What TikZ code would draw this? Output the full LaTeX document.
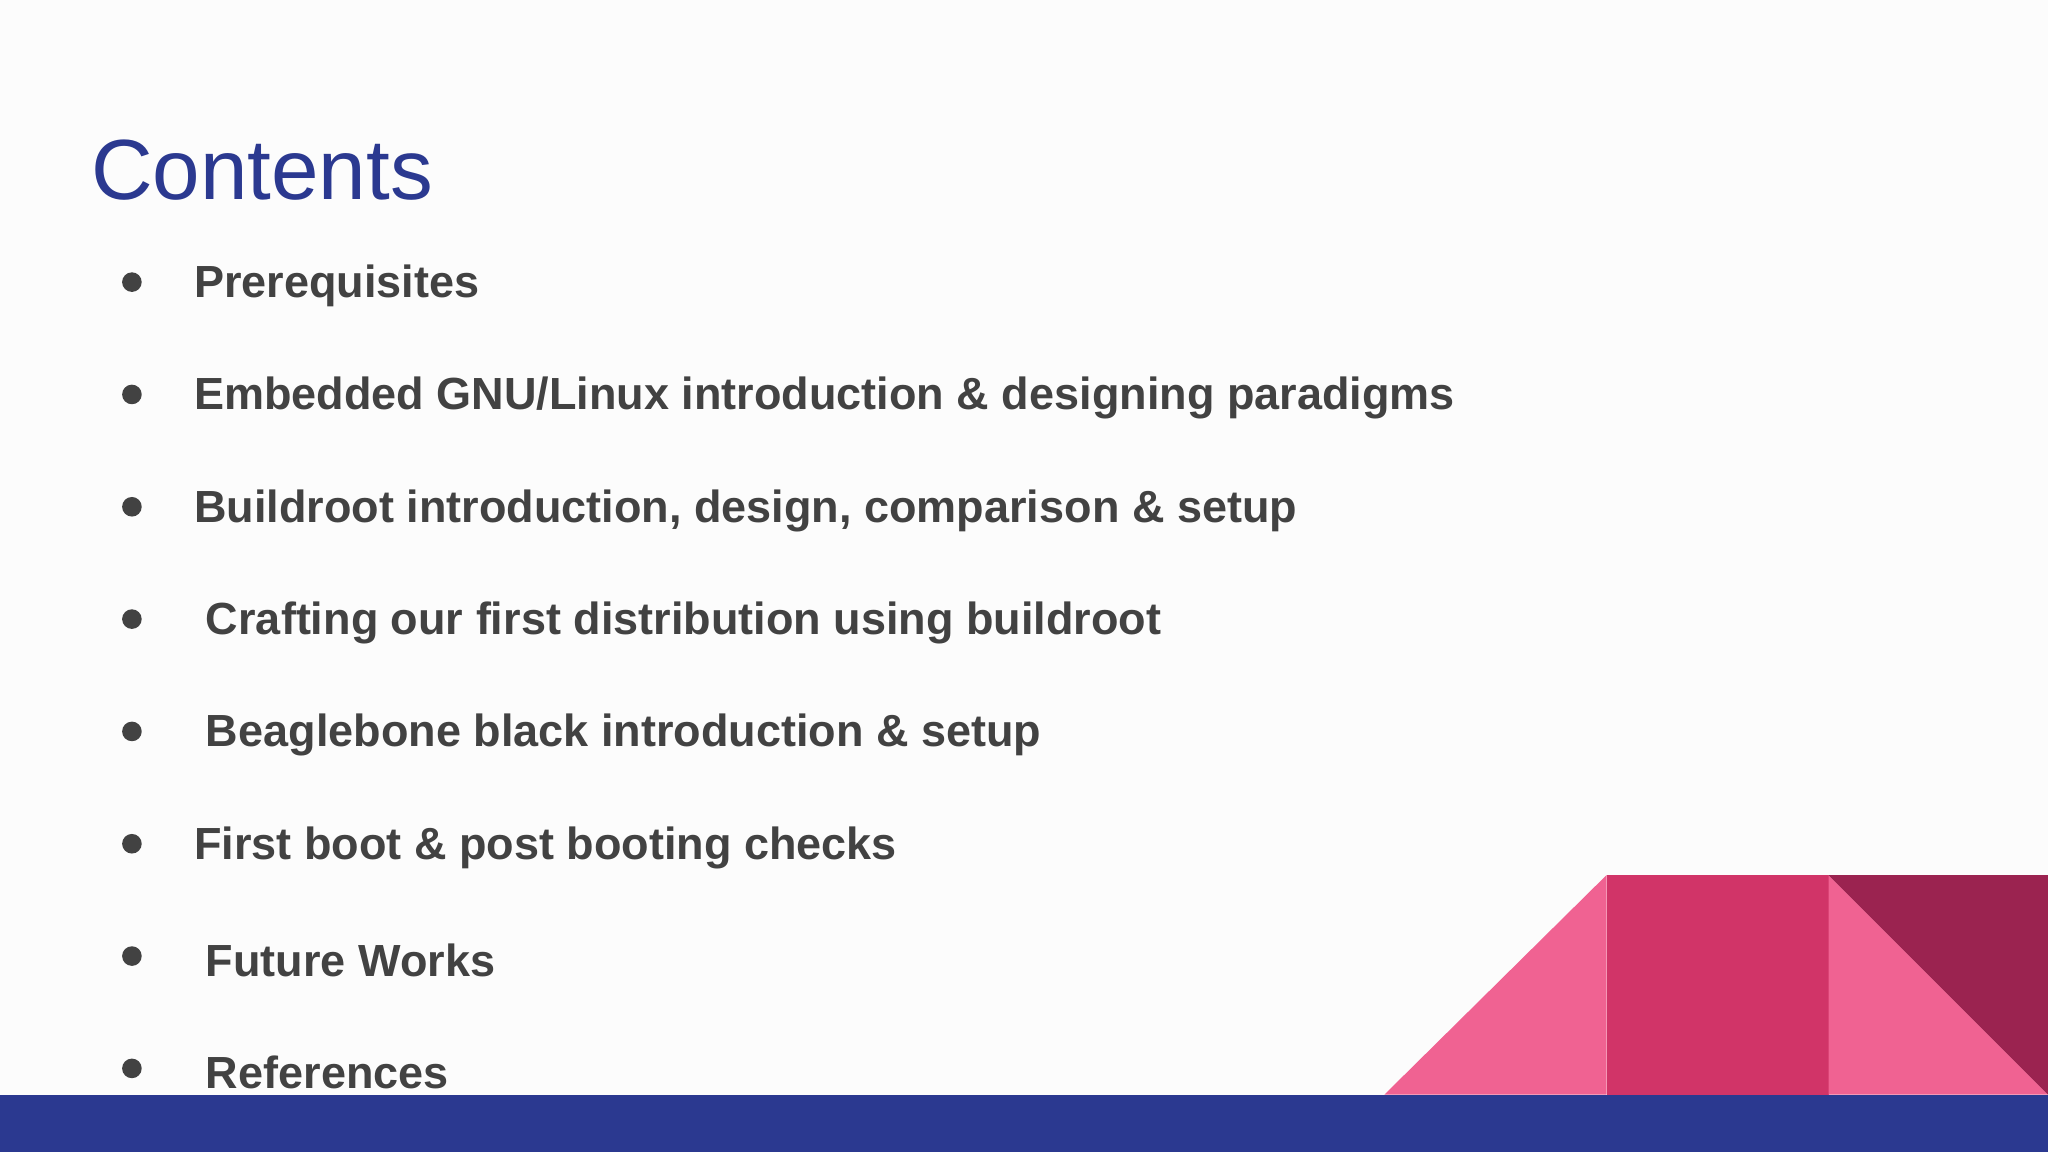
\documentclass[tikz,border=0pt]{standalone}
\usepackage{fontspec}
\setmainfont{Liberation Sans}
\definecolor{navy}{HTML}{2B3990}
\definecolor{txt}{HTML}{424242}
\definecolor{pinkA}{HTML}{F06292}
\definecolor{pinkB}{HTML}{D13468}
\definecolor{wine}{HTML}{9B2350}
\begin{document}
\begin{tikzpicture}[x=0.01cm,y=-0.01cm,
  item/.style={anchor=west,inner sep=0pt,text=txt,font=\fontsize{9.8}{12}\selectfont\bfseries},
  dot/.style={circle,fill=txt,minimum size=0.15cm,inner sep=0pt}]
\fill[white!98!gray] (0,0) rectangle (1568,882);
\useasboundingbox (0,0) rectangle (1568,882);
\node[anchor=west,inner sep=0pt,text=navy,font=\fontsize{18.6}{22}\selectfont] (title) at (69,130) {Contents};
\foreach \y/\x/\t [count=\i] in {216/148/Prerequisites,
  302/148/{Embedded GNU/Linux introduction \& designing paradigms},
  388/148/{Buildroot introduction, design, comparison \& setup},
  474/157/Crafting our first distribution using buildroot,
  560/157/Beaglebone black introduction \& setup,
  646/148/First boot \& post booting checks,
  732/157/Future Works,
  818/157/References}{
  \node[dot] (d\i) at (101,\y) {};
  \node[item] (t\i) at (\x,\y+3) {\t};
}
\fill[pinkA] (1060,838) -- (1230,670) -- (1230,838) -- cycle;
\fill[pinkB] (1230,670) rectangle (1400,838);
\fill[pinkA] (1400,670) -- (1568,838) -- (1400,838) -- cycle;
\fill[wine] (1400,670) -- (1568,670) -- (1568,838) -- cycle;
\fill[navy] (0,838) rectangle (1568,882);
\end{tikzpicture}
\end{document}
